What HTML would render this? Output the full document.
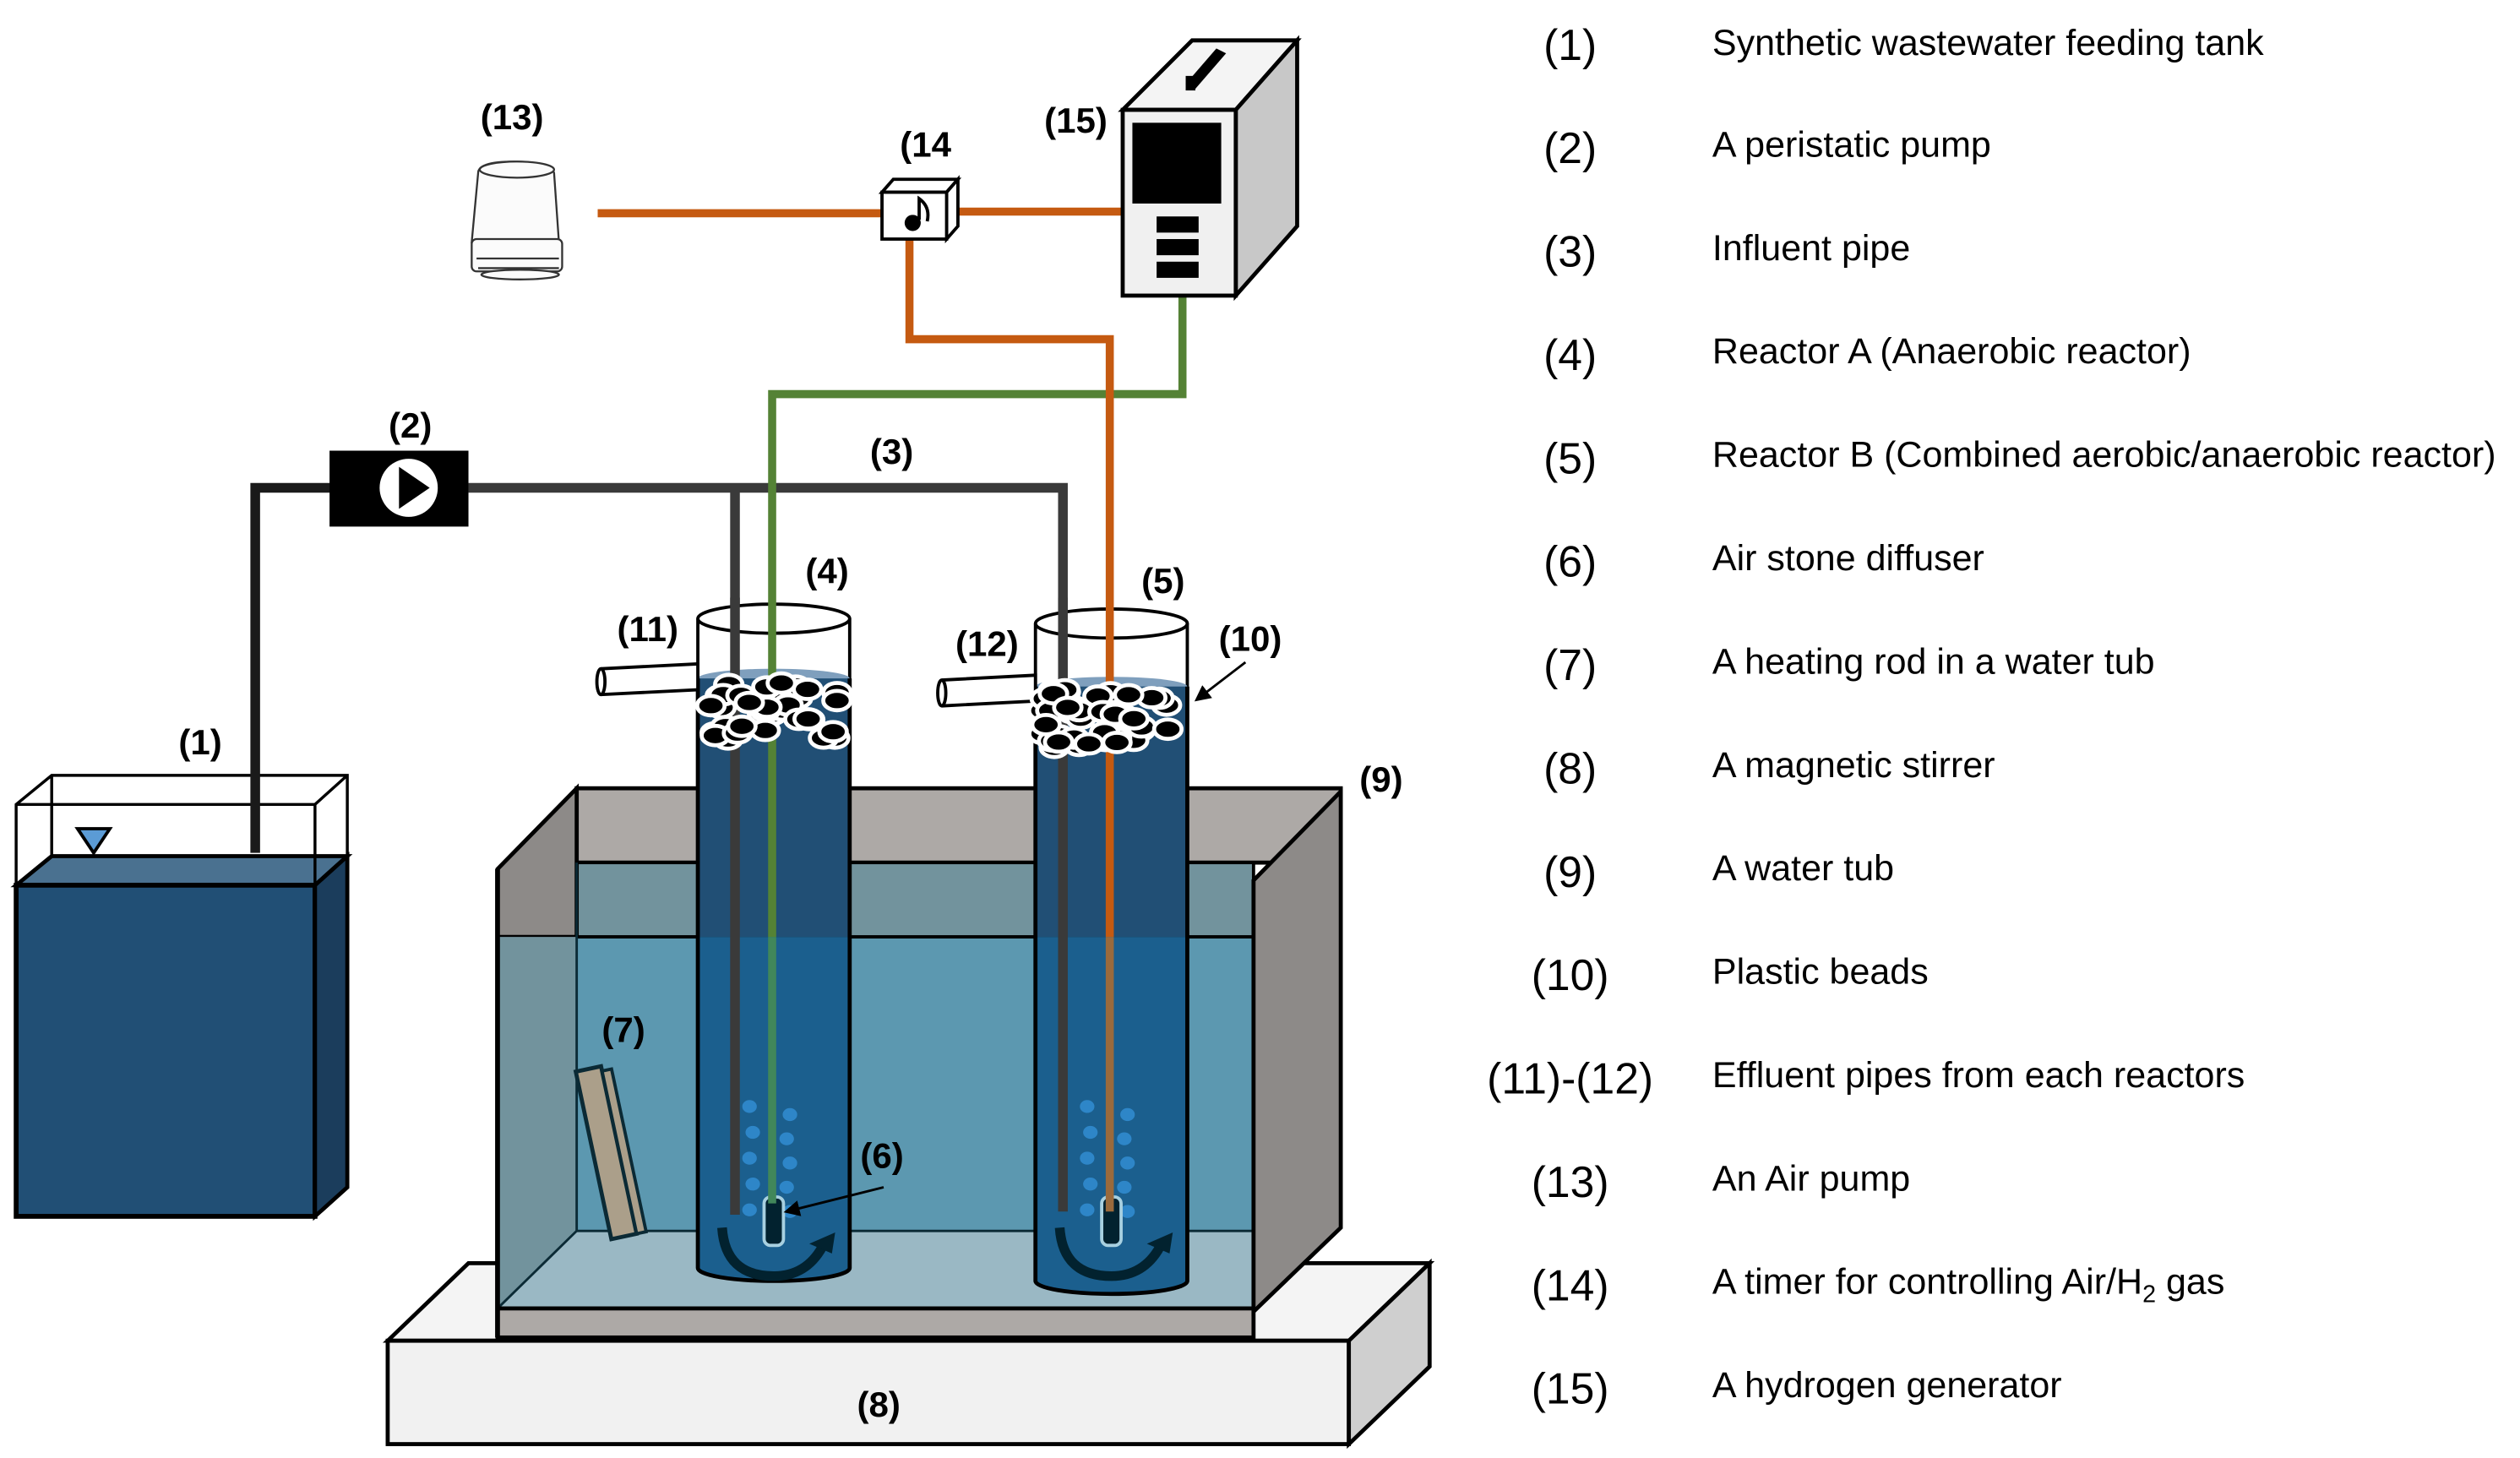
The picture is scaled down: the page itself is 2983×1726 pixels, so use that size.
<!DOCTYPE html>
<html><head><meta charset="utf-8"><style>
html,body{margin:0;padding:0;background:#fff}
svg{display:block}
text{font-family:"Liberation Sans",Arial,sans-serif}
.lbl{font-weight:bold;font-size:22px}
.lg{font-size:22.5px}
.num{font-size:27px}
</style></head><body>
<svg id="s" width="2983" height="1726" viewBox="0 0 1560 902.6" preserveAspectRatio="none" xmlns="http://www.w3.org/2000/svg">
<defs><marker id="ah" markerWidth="10" markerHeight="10" refX="8" refY="5" orient="auto" markerUnits="userSpaceOnUse"><path d="M0,0 L10,5 L0,10 z" fill="#000"/></marker></defs>
<polygon points="240,830 290,782 885,782 835,830" fill="#f4f4f4" stroke="#000" stroke-width="2.5"/>
<rect x="240" y="830" width="595" height="64" fill="#f1f1f1" stroke="#000" stroke-width="2.5"/>
<polygon points="835,830 885,782 885,846 835,894" fill="#cfcfcf" stroke="#000" stroke-width="2.5"/>
<text class="lbl" x="544" y="877" text-anchor="middle">(8)</text>
<rect x="357" y="488" width="473" height="46" fill="#ada9a6" stroke="#000" stroke-width="2.5"/>
<rect x="357" y="534" width="419" height="46" fill="#72939d" stroke="#000" stroke-width="2"/>
<polygon points="308,538 357,488 357,580 308,580" fill="#8d8a88" stroke="#000" stroke-width="2.5"/>
<rect x="308" y="580" width="468" height="230" fill="#5c98b0" stroke="#000" stroke-width="2"/>
<polygon points="308,580 357,580 357,762 308,810" fill="#72939d"/>
<polygon points="357,762 776,762 776,810 308,810" fill="#9ab8c4"/>
<line x1="357" y1="534" x2="357" y2="762" stroke="#0b2a35" stroke-width="1.5"/>
<line x1="357" y1="762" x2="776" y2="762" stroke="#0b2a35" stroke-width="1.5"/>
<line x1="357" y1="762" x2="308" y2="810" stroke="#0b2a35" stroke-width="1.5"/>
<rect x="308" y="810" width="468" height="18" fill="#ada9a6" stroke="#000" stroke-width="2.5"/>
<line x1="308" y1="538" x2="308" y2="828" stroke="#000" stroke-width="3"/>
<g transform="rotate(-12 378 712)"><rect x="367" y="660" width="16" height="106" fill="#ab9f8a" stroke="#0b2a35" stroke-width="2.5"/><rect x="383" y="663" width="6" height="103" fill="#ab9f8a" stroke="#0b2a35" stroke-width="2"/></g>
<text class="lbl" x="386" y="645" text-anchor="middle">(7)</text>
<polygon points="776,545 830,490 830,760 776,812" fill="#8d8a88" stroke="#000" stroke-width="2.5"/>
<text class="lbl" x="855" y="490" text-anchor="middle">(9)</text>
<polygon points="10,548 32,530 215,530 195,548" fill="#4a7190" stroke="#000" stroke-width="2.5"/>
<rect x="10" y="548" width="185" height="205" fill="#214f75" stroke="#000" stroke-width="3"/>
<polygon points="195,548 215,530 215,735 195,753" fill="#1b3d5c" stroke="#000" stroke-width="2.5"/>
<path d="M10,548 L10,498 L32,480 L215,480 L215,530 M10,498 L195,498 L215,480 M195,498 L195,548 M32,480 L32,530" fill="none" stroke="#000" stroke-width="1.8"/>
<polygon points="48,513 68,513 58,528" fill="#5b9bd5" stroke="#000" stroke-width="2"/>
<text class="lbl" x="124" y="467" text-anchor="middle">(1)</text>
<polyline points="158,528 158,302 210,302" fill="none" stroke="#1a1a1a" stroke-width="6"/>
<polyline points="290,302 658,302 658,380" fill="none" stroke="#3a3a3a" stroke-width="6"/>
<line x1="455" y1="302" x2="455" y2="380" stroke="#3a3a3a" stroke-width="6"/>
<rect x="204" y="279" width="86" height="47" fill="#000"/>
<circle cx="253" cy="302" r="18" fill="#fff"/><polygon points="247,289 266,302 247,315" fill="#000"/>
<text class="lbl" x="254" y="271" text-anchor="middle">(2)</text>
<text class="lbl" x="552" y="287" text-anchor="middle">(3)</text>
<g id="reactors"></g>
<line x1="455" y1="370" x2="455" y2="752" stroke="#3a3a3a" stroke-width="6"/>
<line x1="658" y1="370" x2="658" y2="750" stroke="#3a3a3a" stroke-width="6"/>
<polyline points="732,183 732,244 478,244 478,420" fill="none" stroke="#548235" stroke-width="5"/>
<line x1="478" y1="420" x2="478" y2="580" stroke="#548235" stroke-width="5"/>
<line x1="478" y1="580" x2="478" y2="745" stroke="#41875a" stroke-width="5"/>
<polyline points="563,148 563,210 687,210 687,580" fill="none" stroke="#c55a11" stroke-width="5"/>
<line x1="687" y1="580" x2="687" y2="750" stroke="#9a6a3c" stroke-width="5"/>
<line x1="370" y1="132" x2="546" y2="132" stroke="#c55a11" stroke-width="5"/>
<line x1="590" y1="131" x2="697" y2="131" stroke="#c55a11" stroke-width="5"/>
<g id="beads"></g>
<polygon points="546,119 553,111 593,111 586,119" fill="#fff" stroke="#000" stroke-width="2"/>
<polygon points="586,119 593,111 593,140 586,148" fill="#fff" stroke="#000" stroke-width="2"/>
<rect x="546" y="119" width="40" height="29" fill="#fff" stroke="#000" stroke-width="2"/>
<circle cx="565" cy="138" r="5" fill="#000"/><path d="M569,136 L569,123 Q576,128 574,137" fill="none" stroke="#000" stroke-width="2"/>
<text class="lbl" x="573" y="97" text-anchor="middle">(14</text>
<polygon points="695,68 738,25 803,25 765,68" fill="#f4f4f4" stroke="#000" stroke-width="2.5"/>
<polygon points="765,68 803,25 803,140 765,183" fill="#c8c8c8" stroke="#000" stroke-width="2.5"/>
<rect x="695" y="68" width="70" height="115" fill="#f0f0f0" stroke="#000" stroke-width="2.5"/>
<polygon points="734,52 753,30 759,33 740,55" fill="#000"/><rect x="734" y="47" width="6" height="9" fill="#000"/>
<rect x="701" y="76" width="55" height="50" fill="#000"/>
<rect x="716" y="134" width="26" height="10" fill="#000"/><rect x="716" y="148" width="26" height="10" fill="#000"/><rect x="716" y="162" width="26" height="10" fill="#000"/>
<text class="lbl" x="666" y="82" text-anchor="middle">(15)</text>
<g stroke="#333" stroke-width="1.2" fill="#fbfbfb">
<path d="M296,107 Q296,100 318,100 Q340,100 343,107 L346,150 L292,150 Z"/>
<ellipse cx="320" cy="105" rx="23" ry="5"/>
<rect x="292" y="148" width="56" height="20" rx="3"/>
<path d="M295,160 L346,160 M296,166 L346,166"/>
<ellipse cx="322" cy="170" rx="24" ry="3"/>
</g>
<text class="lbl" x="317" y="80" text-anchor="middle">(13)</text>
<text class="lbl" x="401" y="397" text-anchor="middle">(11)</text>
<text class="lbl" x="512" y="361" text-anchor="middle">(4)</text>
<text class="lbl" x="611" y="406" text-anchor="middle">(12)</text>
<text class="lbl" x="720" y="367" text-anchor="middle">(5)</text>
<text class="lbl" x="774" y="403" text-anchor="middle">(10)</text>
<line x1="771" y1="410" x2="741" y2="433" stroke="#000" stroke-width="1.5" marker-end="url(#ah)"/>
<text class="lbl" x="546" y="723" text-anchor="middle">(6)</text>
<line x1="547" y1="735" x2="487" y2="750" stroke="#000" stroke-width="1.5" marker-end="url(#ah)"/>
<g class="lg">
<text class="num" x="972" y="37" text-anchor="middle">(1)</text><text x="1060" y="34">Synthetic wastewater feeding tank</text>
<text class="num" x="972" y="101" text-anchor="middle">(2)</text><text x="1060" y="97">A peristatic pump</text>
<text class="num" x="972" y="165" text-anchor="middle">(3)</text><text x="1060" y="161">Influent pipe</text>
<text class="num" x="972" y="229" text-anchor="middle">(4)</text><text x="1060" y="225">Reactor A (Anaerobic reactor)</text>
<text class="num" x="972" y="293" text-anchor="middle">(5)</text><text x="1060" y="289">Reactor B (Combined aerobic/anaerobic reactor)</text>
<text class="num" x="972" y="357" text-anchor="middle">(6)</text><text x="1060" y="353">Air stone diffuser</text>
<text class="num" x="972" y="421" text-anchor="middle">(7)</text><text x="1060" y="417">A heating rod in a water tub</text>
<text class="num" x="972" y="485" text-anchor="middle">(8)</text><text x="1060" y="481">A magnetic stirrer</text>
<text class="num" x="972" y="549" text-anchor="middle">(9)</text><text x="1060" y="545">A water tub</text>
<text class="num" x="972" y="613" text-anchor="middle">(10)</text><text x="1060" y="609">Plastic beads</text>
<text class="num" x="972" y="677" text-anchor="middle">(11)-(12)</text><text x="1060" y="673">Effluent pipes from each reactors</text>
<text class="num" x="972" y="741" text-anchor="middle">(13)</text><text x="1060" y="737">An Air pump</text>
<text class="num" x="972" y="805" text-anchor="middle">(14)</text><text x="1060" y="801">A timer for controlling Air/H<tspan font-size="15" dy="5">2</tspan><tspan dy="-5"> gas</tspan></text>
<text class="num" x="972" y="869" text-anchor="middle">(15)</text><text x="1060" y="865">A hydrogen generator</text>
</g>
</svg>
<script>
(function(){
var NS="http://www.w3.org/2000/svg",g=document.getElementById("reactors"),gb=document.getElementById("beads");
function el(t,a,p){var e=document.createElementNS(NS,t);for(var k in a)e.setAttribute(k,a[k]);(p||g).appendChild(e);return e;}
var seed=7;function rnd(){seed=(seed*9301+49297)%233280;return seed/233280;}
function reactor(x,w,top,bot,wl){
 var cx=x+w/2,rx=w/2;
 el("path",{d:"M"+x+","+top+" L"+x+","+wl+" L"+(x+w)+","+wl+" L"+(x+w)+","+top,fill:"#fff",stroke:"#000","stroke-width":2});
 el("ellipse",{cx:cx,cy:wl,rx:rx,ry:6,fill:"#7f9fbd"});
 el("rect",{x:x,y:wl,width:w,height:580-wl,fill:"#214f75"});
 el("path",{d:"M"+x+",580 L"+x+","+bot+" A"+rx+",8 0 0 0 "+(x+w)+","+bot+" L"+(x+w)+",580 Z",fill:"#1b5f8e"});
 el("path",{d:"M"+x+","+wl+" L"+x+","+bot+" A"+rx+",8 0 0 0 "+(x+w)+","+bot+" L"+(x+w)+","+wl,fill:"none",stroke:"#000","stroke-width":2.5});
 el("ellipse",{cx:cx,cy:top,rx:rx,ry:9,fill:"#fff",stroke:"#000","stroke-width":2});
 for(var i=0;i<42;i++){var bx=x+4+rnd()*(w-8),by=wl+2+rnd()*36;
  el("ellipse",{cx:bx,cy:by,rx:8.5,ry:6,fill:"#000",stroke:"#fff","stroke-width":2.5},gb);}
 var bxs=[cx-15,cx+10];for(var j=0;j<5;j++){el("ellipse",{cx:bxs[0]+(j%2)*2,cy:685+j*16,rx:4.5,ry:4,fill:"#2e86c8"});el("ellipse",{cx:bxs[1]-(j%2)*2,cy:690+j*15,rx:4.5,ry:4,fill:"#2e86c8"});}
 el("rect",{x:cx-6,y:741,width:12,height:30,rx:4,fill:"#02222f",stroke:"#a8d0e0","stroke-width":2});
 el("path",{d:"M"+(cx-32)+",760 Q"+(cx-30)+",790 "+cx+",790 Q"+(cx+20)+",790 "+(cx+30)+",772",fill:"none",stroke:"#02222f","stroke-width":6});
 el("polygon",{points:(cx+22)+",770 "+(cx+38)+",763 "+(cx+36)+",776",fill:"#02222f"});
}
reactor(432,94,383,785,420);
reactor(641,94,386,793,425);
el("path",{d:"M372,414 L432,411 L432,427 L372,430",fill:"#fff",stroke:"#000","stroke-width":2});
el("ellipse",{cx:372,cy:422,rx:2.5,ry:8,fill:"#fff",stroke:"#000","stroke-width":2});
el("path",{d:"M583,421 L641,418 L641,434 L583,437",fill:"#fff",stroke:"#000","stroke-width":2});
el("ellipse",{cx:583,cy:429,rx:2.5,ry:8,fill:"#fff",stroke:"#000","stroke-width":2});
})();
</script>
</body></html>
